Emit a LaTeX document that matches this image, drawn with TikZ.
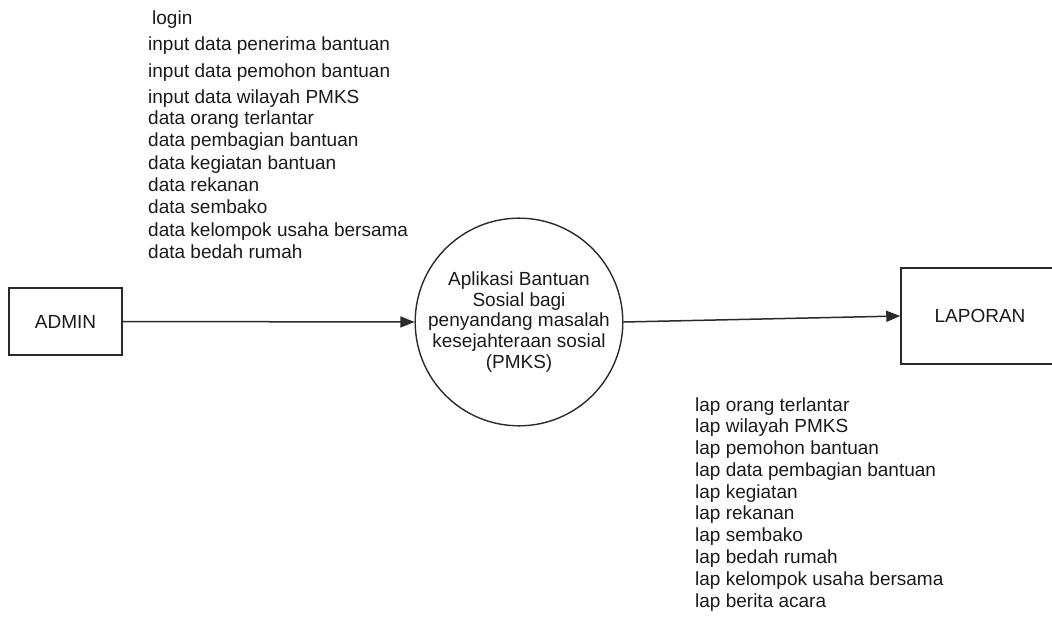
\documentclass[tikz,border=0pt]{standalone}
\usepackage{fontspec}
\setmainfont{Liberation Sans}
\usetikzlibrary{arrows.meta}
\definecolor{ink}{HTML}{1A1A1A}
\definecolor{edge}{HTML}{2A2A2A}
\tikzset{
  lbl/.style={anchor=west, inner sep=0pt, text height=13.7pt, text depth=4pt, font=\fontsize{19}{21}\selectfont, text=ink},
  entity/.style={draw=edge, line width=1.5pt, inner sep=0pt, font=\fontsize{19}{21}\selectfont, text=ink},
  proc/.style={draw=edge, line width=1.4pt, circle, inner sep=0pt, minimum size=206pt, align=center, font=\fontsize{19}{20.7}\selectfont, text=ink},
  flow/.style={draw=edge, line width=1.5pt, -{Triangle[length=14pt,width=11pt]}}
}
\begin{document}
\begin{tikzpicture}[x=1pt,y=-1pt]
\useasboundingbox (0,0) rectangle (1052,617);
\clip (0,0) rectangle (1052,617);
\node[entity, minimum width=113pt, minimum height=67pt] (admin) at (65.5,321.5) {ADMIN};
\node[proc] (p) at (519,322) {Aplikasi Bantuan\\Sosial bagi\\penyandang masalah\\kesejahteraan sosial\\(PMKS)};
\node[entity, minimum width=162pt, minimum height=96pt] (lap) at (982,316) {};
\node[inner sep=0pt, font=\fontsize{19}{21}\selectfont, text=ink] (laptxt) at (980,316) {LAPORAN};
\draw[flow] (admin.east) -- (p.west);
\draw[flow] (p.east) -- (lap.west);
% input flows
\node[lbl] (i1) at (152,20) {login};
\node[lbl] (i2) at (148,46) {input data penerima bantuan};
\node[lbl] (i3) at (148,73) {input data pemohon bantuan};
\node[lbl] (i4) at (148,99) {input data wilayah PMKS};
\node[lbl] (i5) at (148,120) {data orang terlantar};
\node[lbl] (i6) at (148,142) {data pembagian bantuan};
\node[lbl] (i7) at (148,165) {data kegiatan bantuan};
\node[lbl] (i8) at (148,187) {data rekanan};
\node[lbl] (i9) at (148,209) {data sembako};
\node[lbl] (i10) at (148,232) {data kelompok usaha bersama};
\node[lbl] (i11) at (148,254) {data bedah rumah};
% output flows
\node[lbl] (o1) at (695,407) {lap orang terlantar};
\node[lbl] (o2) at (695,428) {lap wilayah PMKS};
\node[lbl] (o3) at (695,450) {lap pemohon bantuan};
\node[lbl] (o4) at (695,472) {lap data pembagian bantuan};
\node[lbl] (o5) at (695,494) {lap kegiatan};
\node[lbl] (o6) at (695,515) {lap rekanan};
\node[lbl] (o7) at (695,537) {lap sembako};
\node[lbl] (o8) at (695,559) {lap bedah rumah};
\node[lbl] (o9) at (695,581) {lap kelompok usaha bersama};
\node[lbl] (o10) at (695,603) {lap berita acara};
\end{tikzpicture}
\end{document}
